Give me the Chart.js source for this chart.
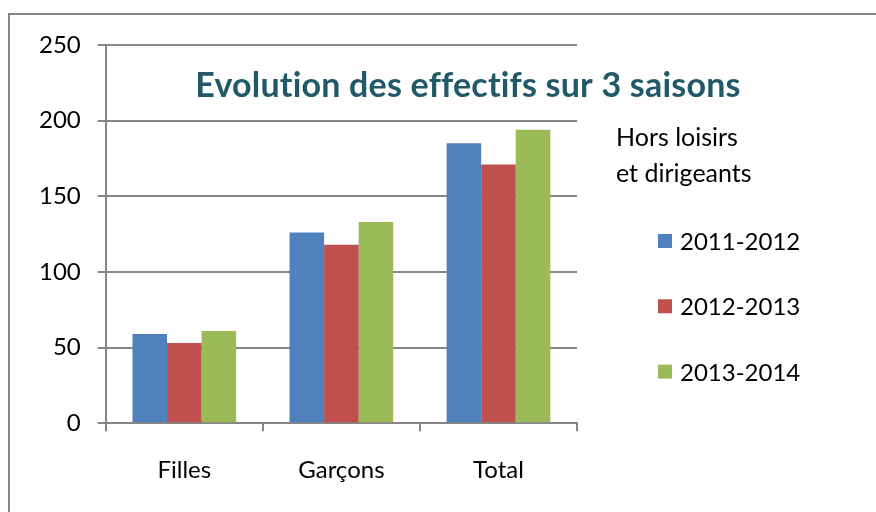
<!DOCTYPE html>
<html>
<head>
<meta charset="utf-8">
<script src="https://cdn.jsdelivr.net/npm/chart.js@4"></script>
<style>
  html, body { margin: 0; padding: 0; background: #fff; }
  #wrap { width: 876px; height: 512px; }
</style>
</head>
<body>
<div id="wrap"><canvas id="c" width="876" height="512"></canvas></div>
<script>
const categories = ["Filles", "Garçons", "Total"];
const seasons = ["2011-2012", "2012-2013", "2013-2014"];
const values2011 = [59, 126, 185];
const values2012 = [53, 118, 171];
const values2013 = [61, 133, 194];
const yTicks = [0, 50, 100, 150, 200, 250];
const titleText = "Evolution des effectifs sur 3 saisons";
const subtitleLines = ["Hors loisirs", "et dirigeants"];

const colors = ["#4F81BD", "#C0504D", "#9BBB59"];
const grey = "#868686";
const FONT = "Lato, 'Open Sans', sans-serif";

const decor = {
  id: "decor",
  beforeDraw(chart) {
    const ctx = chart.ctx;
    ctx.save();
    ctx.fillStyle = "#fff";
    ctx.fillRect(0, 0, chart.width, chart.height);
    ctx.strokeStyle = grey;
    ctx.lineWidth = 2;
    ctx.beginPath();
    ctx.moveTo(9, 512);
    ctx.lineTo(9, 14);
    ctx.lineTo(876, 14);
    ctx.stroke();
    ctx.restore();
  },
  afterDraw(chart) {
    const ctx = chart.ctx;
    ctx.save();
    try { ctx.letterSpacing = "0.2px"; } catch (e) {}
    // title
    ctx.fillStyle = "#215968";
    ctx.font = "bold 34px " + FONT;
    ctx.textAlign = "center";
    ctx.textBaseline = "alphabetic";
    ctx.fillText(titleText, 468, 97);
    // subtitle
    ctx.letterSpacing = "0px";
    ctx.fillStyle = "#000";
    ctx.font = "25px " + FONT;
    ctx.textAlign = "left";
    ctx.fillText(subtitleLines[0], 616, 146);
    ctx.fillText(subtitleLines[1], 616, 182);
    // legend
    ctx.font = "24px " + FONT;
    chart.data.datasets.forEach((ds, i) => {
      const y = 234 + i * 65.3;
      ctx.fillStyle = ds.backgroundColor;
      ctx.fillRect(658, y, 14, 14);
      ctx.fillStyle = "#000";
      ctx.fillText(ds.label, 680, y + 16);
    });
    ctx.restore();
  }
};

new Chart(document.getElementById("c"), {
  type: "bar",
  data: {
    labels: categories,
    datasets: [
      { label: seasons[0], data: values2011, backgroundColor: colors[0] },
      { label: seasons[1], data: values2012, backgroundColor: colors[1] },
      { label: seasons[2], data: values2013, backgroundColor: colors[2] }
    ]
  },
  options: {
    responsive: false,
    animation: false,
    layout: { padding: { top: 45, right: 299, bottom: 2, left: 22 } },
    datasets: { bar: { barPercentage: 1.0, categoryPercentage: 0.66 } },
    plugins: { legend: { display: false }, title: { display: false }, tooltip: { enabled: false } },
    scales: {
      x: {
        grid: { display: true, drawOnChartArea: false, drawTicks: true, tickLength: 8, color: grey, lineWidth: 2, offset: true },
        border: { display: true, color: grey, width: 2 },
        ticks: { color: "#000", font: { family: FONT, size: 24 }, padding: 25 }
      },
      y: {
        min: 0, max: 250,
        afterBuildTicks(axis) { axis.ticks = yTicks.map(v => ({ value: v })); },
        grid: { color: grey, lineWidth: 2, drawTicks: true, tickLength: 8 },
        border: { display: true, color: grey, width: 2 },
        ticks: { color: "#000", font: { family: FONT, size: 24 }, padding: 17 }
      }
    }
  },
  plugins: [decor]
});
</script>
</body>
</html>
